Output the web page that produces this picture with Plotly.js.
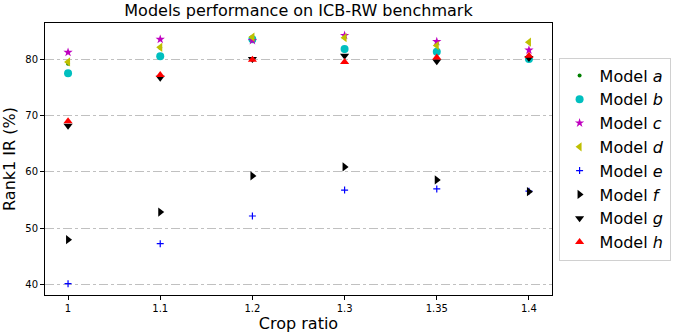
<!DOCTYPE html>
<html><head><meta charset="utf-8">
<script src="https://cdn.plot.ly/plotly-3.0.1.min.js"></script>
<style>body{margin:0;padding:0;background:#fff}#chart{width:688px;height:336px}</style>
</head><body><div id="chart"></div>
<script>
const cropRatios = ["1", "1.1", "1.2", "1.3", "1.35", "1.4"];
const modelA = [79.2, 82.0, 83.6, 81.5, 81.0, 80.3];
const modelB = [77.5, 80.5, 83.5, 81.8, 81.3, 80.0];
const modelC = [81.2, 83.5, 83.3, 84.2, 83.1, 81.6];
const modelD = [79.5, 82.1, 83.9, 83.8, 82.4, 83.0];
const modelE = [40.2, 47.3, 52.2, 56.8, 57.0, 56.6];
const modelF = [48.0, 52.9, 59.3, 60.9, 58.6, 56.5];
const modelG = [68.2, 76.7, 80.0, 80.6, 79.6, 80.2];
const modelH = [69.0, 77.2, 79.9, 79.5, 80.3, 80.6];
const names = ["Model <i>a</i>","Model <i>b</i>","Model <i>c</i>","Model <i>d</i>","Model <i>e</i>","Model <i>f</i>","Model <i>g</i>","Model <i>h</i>"];
const series = [modelA, modelB, modelC, modelD, modelE, modelF, modelG, modelH];
const symbols = ["circle","circle","star","triangle-left","cross-thin-open","triangle-right","triangle-down","triangle-up"];
const colors = ["#007f00","#00bfbf","#bf00bf","#bfbf00","#0000ff","#000000","#000000","#ff0000"];
const sizes = [4, 8, 7, 8, 5, 8, 8, 8];
const traces = series.map((ys, i) => ({
  x: cropRatios, y: ys, type: "scatter", mode: "markers", name: names[i],
  marker: {symbol: symbols[i], color: colors[i], size: sizes[i], line: {color: colors[i], width: symbols[i].startsWith("cross") ? 1.2 : 0}}
}));
const layout = {
  width: 688, height: 336,
  margin: {l: 45, r: 136, t: 23, b: 41},
  paper_bgcolor: "#fff", plot_bgcolor: "#fff",
  font: {family: "DejaVu Sans", color: "#000"},
  title: {text: "Models performance on ICB-RW benchmark", font: {size: 16}, x: 0.5, xref: "paper", y: 0.985, yanchor: "top"},
  xaxis: {type: "category", range: [-0.25, 5.25], showgrid: false, zeroline: false,
    showline: true, mirror: true, linecolor: "#000", linewidth: 1,
    ticks: "outside", ticklen: 4, tickcolor: "#000", tickfont: {size: 10},
    title: {text: "Crop ratio", font: {size: 16}, standoff: 4}},
  yaxis: {range: [38.2, 86.4], tickvals: [40, 50, 60, 70, 80], zeroline: false,
    showgrid: true, gridcolor: "#c0c0c0", griddash: "dashdot", gridwidth: 1,
    showline: true, mirror: true, linecolor: "#000", linewidth: 1,
    ticks: "outside", ticklen: 4, tickcolor: "#000", tickfont: {size: 10},
    title: {text: "Rank1 IR (%)", font: {size: 16}, standoff: 8}},
  legend: {x: 1.013, xanchor: "left", y: 0.5, yanchor: "middle", font: {size: 16},
    bordercolor: "#d0d0d0", borderwidth: 1, bgcolor: "#fff", tracegroupgap: 0, itemwidth: 30},
  showlegend: true
};
Plotly.newPlot("chart", traces, layout, {displayModeBar: false, staticPlot: true});
</script></body></html>
